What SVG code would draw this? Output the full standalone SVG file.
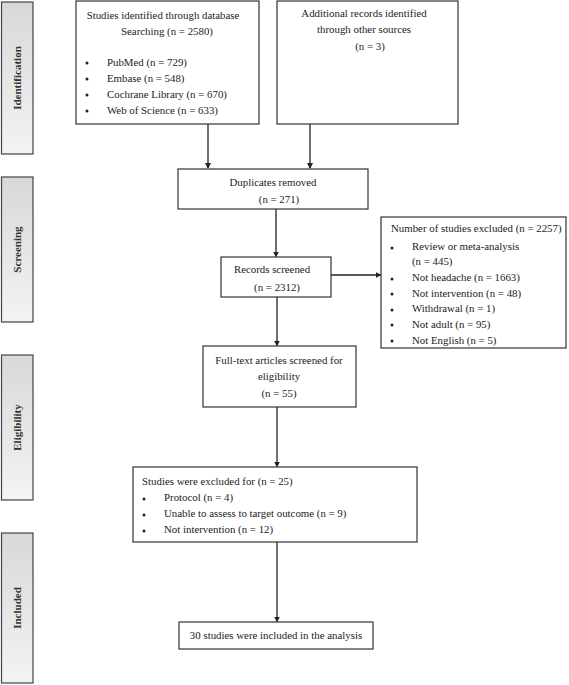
<svg xmlns="http://www.w3.org/2000/svg" width="569" height="685" viewBox="0 0 569 685">
<defs>
<linearGradient id="side" x1="0" y1="0" x2="0" y2="1">
<stop offset="0" stop-color="#d8d8d8"/>
<stop offset="1" stop-color="#f3f3f3"/>
</linearGradient>
<marker id="ah" markerWidth="6" markerHeight="6" refX="5" refY="3" orient="auto" markerUnits="userSpaceOnUse">
<path d="M0,0 L6,3 L0,6 z" fill="#222"/>
</marker>
<style>
.box{fill:#fff;stroke:#333;stroke-width:1.2}
.sb{fill:url(#side);stroke:#444;stroke-width:1.2}
.t{font-family:"Liberation Serif","Times New Roman",serif;font-size:10.85px;fill:#222}
.c{text-anchor:middle}
.lab{font-family:"Liberation Serif","Times New Roman",serif;font-size:11px;font-weight:bold;fill:#333;text-anchor:middle}
.ln{stroke:#222;stroke-width:1.3;fill:none;marker-end:url(#ah)}
.dot{fill:#222}
</style>
</defs>
<rect width="569" height="685" fill="#fff"/>

<g id="side-identification">
<rect class="sb" x="1.5" y="2" width="31.5" height="152"/>
<text class="lab" transform="translate(20.5,78) rotate(-90)">Identification</text>
</g>
<g id="side-screening">
<rect class="sb" x="1.5" y="177" width="31.5" height="145"/>
<text class="lab" transform="translate(20.5,249.5) rotate(-90)">Screening</text>
</g>
<g id="side-eligibility">
<rect class="sb" x="1.5" y="355" width="31.5" height="145"/>
<text class="lab" transform="translate(20.5,427.5) rotate(-90)">Eligibility</text>
</g>
<g id="side-included">
<rect class="sb" x="1.5" y="533" width="31.5" height="150"/>
<text class="lab" transform="translate(20.5,608) rotate(-90)">Included</text>
</g>

<g id="connectors">
<line class="ln" x1="208" y1="124" x2="208" y2="168"/>
<line class="ln" x1="310" y1="124" x2="310" y2="168"/>
<line class="ln" x1="276" y1="209" x2="276" y2="256.5"/>
<line class="ln" x1="331" y1="275" x2="380.5" y2="275"/>
<line class="ln" x1="277" y1="297" x2="277" y2="345.5"/>
<line class="ln" x1="277" y1="407" x2="277" y2="466.5"/>
<line class="ln" x1="277" y1="542" x2="277" y2="621.5"/>
</g>

<g id="database">
<rect class="box" x="76" y="1" width="183" height="123"/>
<text class="t c" x="163" y="19">Studies identified through database</text>
<text class="t c" x="167" y="35">Searching (n = 2580)</text>
<circle class="dot" cx="87" cy="63" r="1.5"/>
<circle class="dot" cx="87" cy="79" r="1.5"/>
<circle class="dot" cx="87" cy="95" r="1.5"/>
<circle class="dot" cx="87" cy="111" r="1.5"/>
<text class="t" x="107" y="66">PubMed (n = 729)</text>
<text class="t" x="107" y="82">Embase (n = 548)</text>
<text class="t" x="107" y="98">Cochrane Library (n = 670)</text>
<text class="t" x="107" y="114">Web of Science (n = 633)</text>
</g>

<g id="other-sources">
<rect class="box" x="277" y="1" width="181" height="123"/>
<text class="t c" x="364" y="17">Additional records identified</text>
<text class="t c" x="364" y="33">through other sources</text>
<text class="t c" x="370" y="50">(n = 3)</text>
</g>

<g id="duplicates">
<rect class="box" x="178" y="169" width="190" height="40"/>
<text class="t c" x="273" y="186">Duplicates removed</text>
<text class="t c" x="279" y="203">(n = 271)</text>
</g>

<g id="records">
<rect class="box" x="221" y="257" width="110" height="40"/>
<text class="t c" x="272" y="273">Records screened</text>
<text class="t c" x="277" y="291">(n = 2312)</text>
</g>

<g id="excluded-records">
<rect class="box" x="381" y="217" width="185" height="131"/>
<text class="t" x="391" y="232">Number of studies excluded (n = 2257)</text>
<circle class="dot" cx="392" cy="248" r="1.5"/>
<circle class="dot" cx="392" cy="279" r="1.5"/>
<circle class="dot" cx="392" cy="294" r="1.5"/>
<circle class="dot" cx="392" cy="310" r="1.5"/>
<circle class="dot" cx="392" cy="325" r="1.5"/>
<circle class="dot" cx="392" cy="341" r="1.5"/>
<text class="t" x="412" y="250">Review or meta-analysis</text>
<text class="t" x="412" y="265">(n = 445)</text>
<text class="t" x="412" y="281">Not headache (n = 1663)</text>
<text class="t" x="412" y="297">Not intervention (n = 48)</text>
<text class="t" x="412" y="312">Withdrawal (n = 1)</text>
<text class="t" x="412" y="328">Not adult (n = 95)</text>
<text class="t" x="412" y="344">Not English (n = 5)</text>
</g>

<g id="full-text">
<rect class="box" x="203" y="346" width="153" height="61"/>
<text class="t c" x="279" y="364">Full-text articles screened for</text>
<text class="t c" x="279" y="380">eligibility</text>
<text class="t c" x="279" y="397">(n = 55)</text>
</g>

<g id="excluded-fulltext">
<rect class="box" x="133" y="467" width="284" height="75"/>
<text class="t" x="142" y="485">Studies were excluded for (n = 25)</text>
<circle class="dot" cx="144" cy="499" r="1.5"/>
<circle class="dot" cx="144" cy="515" r="1.5"/>
<circle class="dot" cx="144" cy="531" r="1.5"/>
<text class="t" x="164" y="501">Protocol (n = 4)</text>
<text class="t" x="164" y="517">Unable to assess to target outcome (n = 9)</text>
<text class="t" x="164" y="533">Not intervention (n = 12)</text>
</g>

<g id="included">
<rect class="box" x="179" y="622" width="194" height="27"/>
<text class="t c" x="276" y="639">30 studies were included in the analysis</text>
</g>
</svg>
